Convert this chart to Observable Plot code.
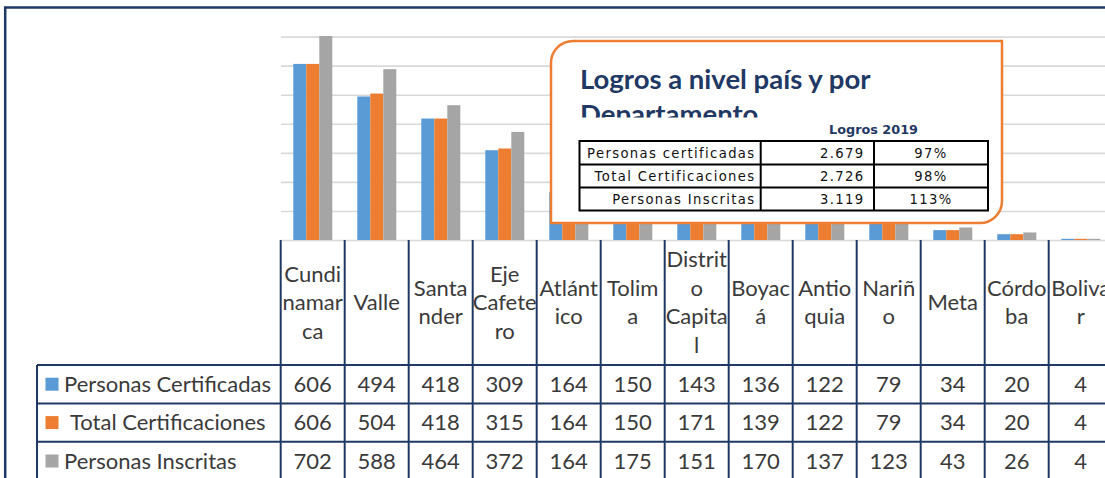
<!DOCTYPE html>
<html><head><meta charset="utf-8">
<script src="https://cdn.jsdelivr.net/npm/d3@7"></script>
<script src="https://cdn.jsdelivr.net/npm/@observablehq/plot@0.6"></script>
<style>
html,body{margin:0;padding:0;background:#fff;overflow:hidden;width:1105px;height:478px}
#chart{position:relative;width:1105px;height:478px;overflow:hidden}
#chart svg{display:block;overflow:hidden}
</style></head><body><div id="chart"></div>
<script>
const categories = ["Cundinamarca","Valle","Santander","Eje Cafetero","Atlántico","Tolima","Distrito Capital","Boyacá","Antioquia","Nariño","Meta","Córdoba","Bolívar"];
const headerLabels = [["Cundi","namar","ca"],["Valle"],["Santa","nder"],["Eje","Cafete","ro"],["Atlánt","ico"],["Tolim","a"],["Distrit","o","Capita","l"],["Boyac","á"],["Antio","quia"],["Nariñ","o"],["Meta"],["Córdo","ba"],["Boliva","r"]];
const seriesNames = ["Personas Certificadas","Total Certificaciones","Personas Inscritas"];
const personasCertificadas = [606,494,418,309,164,150,143,136,122,79,34,20,4];
const totalCertificaciones = [606,504,418,315,164,150,171,139,122,79,34,20,4];
const personasInscritas = [702,588,464,372,164,175,151,170,137,123,43,26,4];
const seriesColors = ["#5B9BD5","#ED7D31","#A5A5A5"];
const yTicks = [0,100,200,300,400,500,600,700];
const boxTitleLines = ["Logros a nivel país y por","Departamento"];
const boxSubtitle = "Logros 2019";
const logrosLabels = ["Personas certificadas","Total Certificaciones","Personas Inscritas"];
const logrosTotals = ["2.679","2.726","3.119"];
const logrosPct = ["97%","98%","113%"];

const seriesValues = [personasCertificadas, totalCertificaciones, personasInscritas];
const rows = [];
categories.forEach((c, i) => seriesNames.forEach((s, j) => rows.push({cat: c, series: s, value: seriesValues[j][i]})));

const plot = Plot.plot({
  width: 1105, height: 478,
  marginTop: 36.6, marginBottom: 238, marginLeft: 280.7, marginRight: -7.7,
  fx: {domain: categories, padding: 0, axis: null},
  x: {domain: seriesNames, paddingInner: 0, paddingOuter: 0.786, axis: null},
  y: {domain: [0, 700], axis: null},
  color: {domain: seriesNames, range: seriesColors},
  marks: [
    Plot.ruleY(yTicks, {stroke: "#D9D9D9", strokeWidth: 1.6}),
    Plot.barY(rows, {fx: "cat", x: "series", y: "value", fill: "series", inset: 0})
  ]
});
document.getElementById("chart").appendChild(plot);

const svg = d3.select(plot);
const fxs = plot.scale("fx");
const band = d3.scaleBand(fxs.domain, fxs.range).paddingInner(0).paddingOuter(0);
const bw = band.bandwidth();
const navy = "#1F3864";
const txt = "#3A3A3A";
const font = "Lato, 'Open Sans', sans-serif";

const headerTop = 240, headerBottom = 365, rowH = 38.4, tableLeft = 37;
const t = svg.append("g");

// frame
t.append("path").attr("d", `M5.2,478 V7.5 H1105`).attr("fill", "none").attr("stroke", navy).attr("stroke-width", 2.5);

// column lines
const edges = categories.map(c => band(c)).concat([band(categories[categories.length-1]) + bw]);
edges.forEach(x => t.append("line").attr("x1", x).attr("x2", x).attr("y1", headerTop).attr("y2", 480).attr("stroke", navy).attr("stroke-width", 2));
// row lines
for (let i = 0; i <= 3; i++) {
  const y = headerBottom + i * rowH;
  t.append("line").attr("x1", tableLeft).attr("x2", 1110).attr("y1", y).attr("y2", y).attr("stroke", navy).attr("stroke-width", 2);
}
t.append("line").attr("x1", tableLeft).attr("x2", tableLeft).attr("y1", headerBottom).attr("y2", 480).attr("stroke", navy).attr("stroke-width", 2);

// header labels
categories.forEach((c, i) => {
  const lines = headerLabels[i];
  const cx = band(c) + bw / 2;
  lines.forEach((ln, k) => {
    t.append("text").attr("x", cx).attr("y", 310 + (k - (lines.length - 1) / 2) * 28.5)
      .attr("text-anchor", "middle").attr("font-family", font).attr("font-size", 22).attr("fill", txt).text(ln);
  });
});

// data rows
seriesNames.forEach((s, j) => {
  const cy = headerBottom + j * rowH + rowH / 2;
  t.append("rect").attr("x", 45.5).attr("y", cy - 6.5).attr("width", 13).attr("height", 13).attr("fill", seriesColors[j]);
  t.append("text").attr("x", j === 1 ? 70 : 64).attr("y", cy + 7.5).attr("text-anchor", "start").attr("font-family", font).attr("font-size", 22).attr("fill", txt).text(s);
  categories.forEach((c, i) => {
    t.append("text").attr("x", band(c) + bw / 2).attr("y", cy + 7.5).attr("text-anchor", "middle")
      .attr("font-family", font).attr("font-size", 22).attr("fill", txt).text(seriesValues[j][i]);
  });
});

// overlay box
const bx0 = 551, by0 = 41, bx1 = 1002, by1 = 223, r = 22;
const box = svg.append("g");
box.append("path").attr("d", `M${bx0 + r},${by0} H${bx1} V${by1 - r} A${r},${r} 0 0 1 ${bx1 - r},${by1} H${bx0} V${by0 + r} A${r},${r} 0 0 1 ${bx0 + r},${by0} Z`)
  .attr("fill", "#fff").attr("stroke", "#ED7D31").attr("stroke-width", 2.5);
const clipId = "titleclip";
svg.append("defs").append("clipPath").attr("id", clipId).append("rect").attr("x", bx0).attr("y", by0).attr("width", bx1 - bx0).attr("height", 117.5 - by0);
const tg = box.append("g").attr("clip-path", `url(#${clipId})`);
boxTitleLines.forEach((ln, k) => {
  tg.append("text").attr("x", 580).attr("y", 88.5 + k * 35).attr("text-anchor", "start").attr("font-family", font).attr("font-weight", 700)
    .attr("font-size", 27.5).attr("fill", navy).text(ln);
});
box.append("text").attr("x", 873.5).attr("y", 134).attr("text-anchor", "middle").attr("font-family", "'DejaVu Sans', Verdana, sans-serif")
  .attr("font-weight", 700).attr("font-size", 12.8).attr("fill", navy).text(boxSubtitle);

const tx0 = 579.5, tx1 = 988, tc1 = 760.7, tc2 = 874, ty = [141, 164.5, 187.5, 210.5];
box.append("rect").attr("x", tx0).attr("y", ty[0]).attr("width", tx1 - tx0).attr("height", ty[3] - ty[0]).attr("fill", "none").attr("stroke", "#000").attr("stroke-width", 2);
[tc1, tc2].forEach(x => box.append("line").attr("x1", x).attr("x2", x).attr("y1", ty[0]).attr("y2", ty[3]).attr("stroke", "#000").attr("stroke-width", 2));
[ty[1], ty[2]].forEach(y => box.append("line").attr("x1", tx0).attr("x2", tx1).attr("y1", y).attr("y2", y).attr("stroke", "#000").attr("stroke-width", 2));
const tf = "'DejaVu Sans', Verdana, sans-serif";
logrosLabels.forEach((l, k) => {
  const yb = (ty[k] + ty[k + 1]) / 2 + 5;
  box.append("text").attr("x", 755.5).attr("y", yb).attr("text-anchor", "end").attr("font-family", tf).attr("font-size", 13.2).attr("letter-spacing", 1.35).attr("fill", "#111").text(l);
  box.append("text").attr("x", 864.5).attr("y", yb).attr("text-anchor", "end").attr("font-family", tf).attr("font-size", 13.2).attr("letter-spacing", 1.35).attr("fill", "#111").text(logrosTotals[k]);
  box.append("text").attr("x", 931).attr("y", yb).attr("text-anchor", "middle").attr("font-family", tf).attr("font-size", 13.2).attr("letter-spacing", 1.35).attr("fill", "#111").text(logrosPct[k]);
});
</script></body></html>
